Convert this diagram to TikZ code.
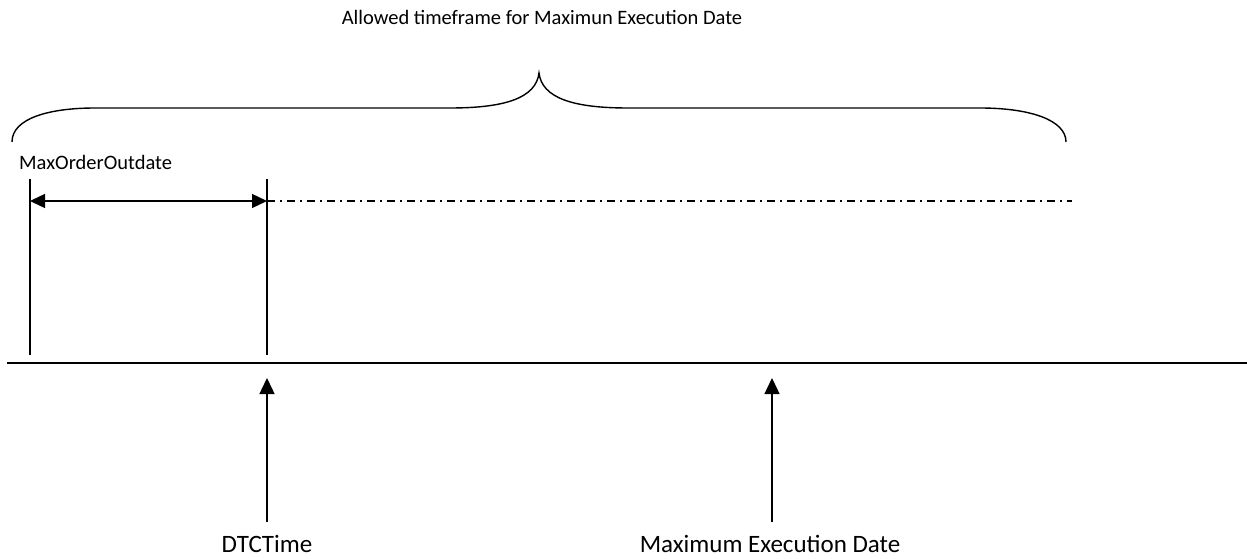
\documentclass[tikz,border=0pt]{standalone}
\usepackage{fontspec}
\setmainfont{Carlito}
\usetikzlibrary{arrows.meta}
\begin{document}
\begin{tikzpicture}[x=1pt,y=-1pt,
  ln/.style={line width=1.4pt,black},
  tip/.style={-{Triangle[length=16pt,width=15pt]}},
  lbl/.style={font=\fontsize{20.5}{24}\selectfont,inner sep=0pt,anchor=base},
  biglbl/.style={font=\fontsize{25}{29}\selectfont,inner sep=0pt,anchor=base}]
\useasboundingbox (0,0) rectangle (1247,559);
% coordinates
\coordinate (bl) at (7,363);
\coordinate (br) at (1247,363);
\coordinate (v1t) at (30,179);
\coordinate (v1b) at (30,355);
\coordinate (v2t) at (267,179);
\coordinate (v2b) at (267,355);
\coordinate (aL) at (30,201);
\coordinate (aR) at (267,201);
\coordinate (dEnd) at (1072,201);
\coordinate (t1) at (267,378);
\coordinate (t2) at (772,378);
% texts
\node[lbl] (top) at (542,25) {Allowed timeframe for Maximun Execution Date};
\node[lbl,anchor=base west] (mod) at (19,169) {MaxOrderOutdate};
\node[biglbl] (dtc) at (267,552) {DTCTime};
\node[biglbl] (med) at (770,552) {Maximum Execution Date};
% brace
\draw[ln] (12,142) .. controls (12,118) and (50,108) .. (95,108) -- (450,108)
  .. controls (505,108) and (536,98) .. (539,73)
  .. controls (542,98) and (573,108) .. (628,108) -- (980,108)
  .. controls (1030,108) and (1066,120) .. (1066,142);
% timeline
\draw[ln] (bl) -- (br);
\draw[ln] (v1t) -- (v1b);
\draw[ln] (v2t) -- (v2b);
\draw[ln,{Triangle[length=15pt,width=14pt]}-{Triangle[length=15pt,width=14pt]}] (aL) -- (aR);
\draw[line width=1.3pt,dash pattern=on 8pt off 5pt on 2pt off 5pt] (aR) -- (dEnd);
% arrows
\coordinate (s1) at (267,522);
\coordinate (s2) at (772,522);
\draw[ln,tip] (s1) -- (t1);
\draw[ln,tip] (s2) -- (t2);
\end{tikzpicture}
\end{document}
